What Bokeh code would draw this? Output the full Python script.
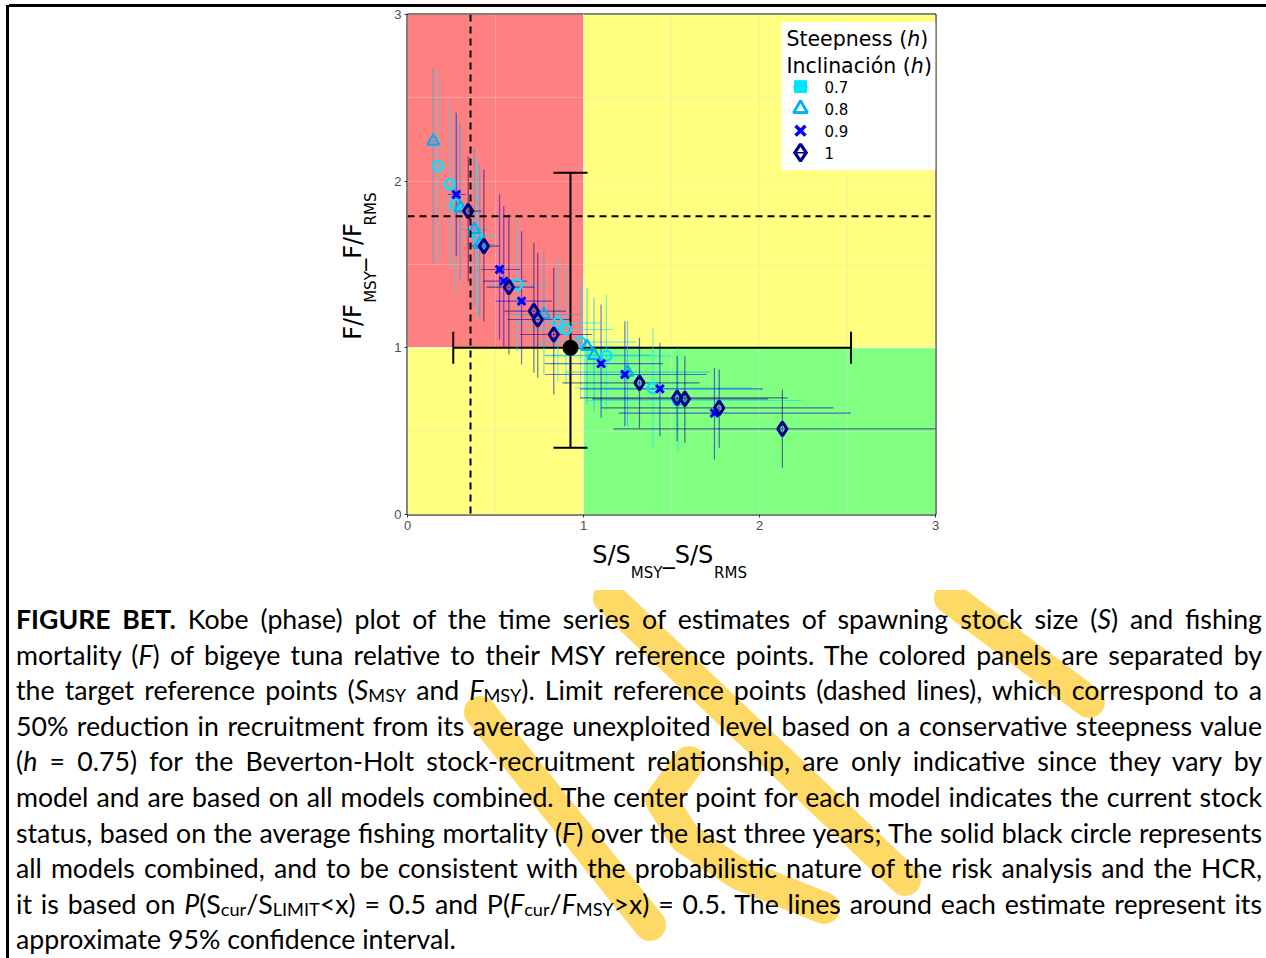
from math import pi
from bokeh.plotting import figure
from bokeh.models import (Range1d, Span, Label, Div, Whisker, TeeHead, ColumnDataSource,
                          LinearAxis, FixedTicker)
from bokeh.layouts import row, column
from bokeh.embed import file_html
from bokeh.resources import INLINE

# ---------------- data ----------------
# steepness h = 0.7 (open circles)
h07_x   = [0.174, 0.24, 0.273, 0.396, 0.623, 0.854, 0.90, 0.983, 1.13, 1.394, 1.536]
h07_y   = [2.09, 1.98, 1.86, 1.67, 1.38, 1.15, 1.11, 1.034, 0.952, 0.758, 0.684]
h07_xlo = [0.15, 0.20, 0.20, 0.30, 0.47, 0.62, 0.66, 0.70, 0.78, 0.95, 1.02]
h07_xhi = [0.20, 0.28, 0.36, 0.50, 0.80, 1.10, 1.17, 1.30, 1.50, 1.96, 2.24]
h07_ylo = [1.52, 1.48, 1.33, 1.18, 0.98, 0.80, 0.78, 0.70, 0.62, 0.40, 0.38]
h07_yhi = [2.66, 2.48, 2.40, 2.15, 1.80, 1.54, 1.50, 1.40, 1.32, 1.12, 1.00]

# steepness h = 0.8 (open triangles)
h08_x   = [0.146, 0.30, 0.38, 0.41, 0.775, 1.02, 1.06, 1.25]
h08_y   = [2.24, 1.84, 1.71, 1.62, 1.20, 1.008, 0.955, 0.854]
h08_xlo = [0.13, 0.24, 0.30, 0.33, 0.58, 0.75, 0.78, 0.90]
h08_xhi = [0.17, 0.36, 0.46, 0.50, 0.98, 1.32, 1.38, 1.72]
h08_ylo = [1.51, 1.40, 1.25, 1.18, 0.84, 0.66, 0.62, 0.53]
h08_yhi = [2.68, 2.35, 2.20, 2.10, 1.58, 1.36, 1.30, 1.16]

# steepness h = 0.9 (crosses)
h09_x   = [0.277, 0.523, 0.547, 0.648, 1.10, 1.235, 1.434, 1.744]
h09_y   = [1.92, 1.47, 1.40, 1.28, 0.905, 0.84, 0.754, 0.608]
h09_xlo = [0.23, 0.42, 0.43, 0.50, 0.78, 0.78, 0.98, 1.20]
h09_xhi = [0.33, 0.64, 0.68, 0.82, 1.45, 1.70, 2.02, 2.52]
h09_ylo = [1.55, 1.05, 1.00, 0.90, 0.58, 0.53, 0.47, 0.33]
h09_yhi = [2.41, 1.92, 1.85, 1.70, 1.26, 1.16, 1.03, 0.88]

# steepness h = 1 (open diamonds)
h10_x   = [0.345, 0.434, 0.576, 0.718, 0.74, 0.831, 1.318, 1.532, 1.576, 1.771, 2.13]
h10_y   = [1.82, 1.61, 1.364, 1.22, 1.17, 1.08, 0.79, 0.70, 0.694, 0.64, 0.514]
h10_xlo = [0.28, 0.35, 0.45, 0.55, 0.57, 0.64, 0.88, 0.98, 1.05, 1.10, 1.17]
h10_xhi = [0.42, 0.52, 0.72, 0.90, 0.93, 1.05, 1.66, 2.16, 2.05, 2.42, 3.10]
h10_ylo = [1.40, 1.16, 0.96, 0.85, 0.82, 0.72, 0.52, 0.44, 0.43, 0.40, 0.28]
h10_yhi = [2.15, 2.07, 1.80, 1.63, 1.57, 1.48, 1.06, 0.95, 0.95, 0.87, 0.75]

# all models combined
comb_x, comb_y = [0.926], [1.0]
comb_xlo, comb_xhi = [0.26], [2.52]
comb_ylo, comb_yhi = [0.40], [2.05]

# limit reference points (dashed)
limit_s = 0.358
limit_f = 1.79

# target reference points and axis ticks
target_s, target_f = 1.0, 1.0
axis_max = 3
ticks = [0, 1, 2, 3]
legend_labels = ["0.7", "0.8", "0.9", "1"]

# ---------------- figure ----------------
FONT = "DejaVu Sans"
p = figure(width=1257, height=583, x_range=Range1d(0, axis_max), y_range=Range1d(0, axis_max),
           output_backend="svg", toolbar_location=None,
           min_border_left=398, min_border_right=331, min_border_top=7, min_border_bottom=76,
           margin=0)
p.outline_line_color = "black"
p.outline_line_width = 2
p.background_fill_color = "white"
p.border_fill_color = "white"

# coloured Kobe panels
panels = ColumnDataSource(dict(
    left=[0, 0, target_s, target_s],
    right=[target_s, target_s, axis_max, axis_max],
    bottom=[target_f, 0, target_f, 0],
    top=[axis_max, target_f, axis_max, target_f],
    color=["#FF8080", "#FFFF80", "#FFFF80", "#80FF80"],
))
p.quad(left="left", right="right", bottom="bottom", top="top", fill_color="color",
       line_color="white", line_width=1, line_alpha=0.8, source=panels, level="image")

for ax in (p.xaxis[0], p.yaxis[0]):
    ax.ticker = ticks
    ax.axis_line_color = None
    ax.major_tick_in = 0
    ax.major_tick_out = 3
    ax.major_tick_line_color = "#333333"
    ax.minor_tick_line_color = None
    ax.major_label_text_font = "Liberation Sans"
    ax.major_label_text_font_size = "13px"
    ax.major_label_text_color = "#4D4D4D"
    ax.major_label_standoff = 3

p.xgrid.ticker = [0.5, 1, 1.5, 2, 2.5]
p.ygrid.ticker = [0.5, 1, 1.5, 2, 2.5]
p.grid.grid_line_color = "#E0E0E0"
p.grid.grid_line_alpha = 0.35

groups = [
    (h07_x, h07_y, h07_xlo, h07_xhi, h07_ylo, h07_yhi, "#00E5FF", "circle", 10, 2.5),
    (h08_x, h08_y, h08_xlo, h08_xhi, h08_ylo, h08_yhi, "#00B0F0", "triangle", 12, 2.2),
    (h09_x, h09_y, h09_xlo, h09_xhi, h09_ylo, h09_yhi, "#0000FF", "x", 11, 3.0),
    (h10_x, h10_y, h10_xlo, h10_xhi, h10_ylo, h10_yhi, "#00008B", "diamond", 14, 3.0),
]

for gx, gy, xlo, xhi, ylo, yhi, col, mk, sz, lw in groups:
    src = ColumnDataSource(dict(x=gx, y=gy, xlo=xlo, xhi=xhi, ylo=ylo, yhi=yhi))
    p.segment(x0="xlo", x1="xhi", y0="y", y1="y", source=src, line_color=col, line_alpha=0.55, line_width=1.2)
    p.segment(x0="x", x1="x", y0="ylo", y1="yhi", source=src, line_color=col, line_alpha=0.55, line_width=1.2)

for gx, gy, xlo, xhi, ylo, yhi, col, mk, sz, lw in groups:
    p.scatter(gx, gy, marker=mk, size=sz, fill_color=None, line_color=col, line_width=lw)

# limit reference points
p.add_layout(Span(location=limit_s, dimension="height", line_color="black", line_width=2, line_dash="7 5"))
p.add_layout(Span(location=limit_f, dimension="width", line_color="black", line_width=2, line_dash="7 5"))

# combined estimate
csrc = ColumnDataSource(dict(x=comb_x, y=comb_y, xlo=comb_xlo, xhi=comb_xhi, ylo=comb_ylo, yhi=comb_yhi))
p.add_layout(Whisker(base="x", lower="ylo", upper="yhi", dimension="height", source=csrc,
                     line_color="black", line_width=2,
                     lower_head=TeeHead(size=34, line_width=2, line_color="black"),
                     upper_head=TeeHead(size=34, line_width=2, line_color="black")))
p.add_layout(Whisker(base="y", lower="xlo", upper="xhi", dimension="width", source=csrc,
                     line_color="black", line_width=2,
                     lower_head=TeeHead(size=32, line_width=2, line_color="black"),
                     upper_head=TeeHead(size=32, line_width=2, line_color="black")))
p.scatter(comb_x, comb_y, marker="circle", size=15, color="black")

# legend (manual, ggplot style)
p.quad(left=[2.125], right=[3.0], bottom=[2.066], top=[2.955], fill_color="white", line_color=None)
leg_y = [2.567, 2.435, 2.303, 2.171]
leg_x = 2.233
p.segment(x0=[2.19], x1=[2.275], y0=[leg_y[0]], y1=[leg_y[0]], line_color="#00E5FF", line_width=1.5)
p.scatter([leg_x], [leg_y[0]], marker="square", size=12, color="#00E5FF")
p.scatter([leg_x], [leg_y[1]], marker="triangle", size=14, fill_color=None, line_color="#00B0F0", line_width=2.8)
p.segment(x0=[2.19], x1=[2.275], y0=[leg_y[1] - 0.02], y1=[leg_y[1] - 0.02], line_color="#00B0F0", line_width=1.5)
p.scatter([leg_x], [leg_y[2]], marker="x", size=14, line_color="#0000FF", line_width=3.5)
p.scatter([leg_x], [leg_y[3]], marker="diamond", size=17, fill_color=None, line_color="#00008B", line_width=3.2)
p.segment(x0=[2.19], x1=[2.275], y0=[leg_y[3]], y1=[leg_y[3]], line_color="#00008B", line_width=1.5)
for yy, lab_ in zip(leg_y, legend_labels):
    p.add_layout(Label(x=2.369, y=yy, text=lab_, text_font=FONT, text_font_size="15px",
                       text_baseline="middle", text_align="left", text_color="black"))

def lab(x, y, t, size, style="normal"):
    p.add_layout(Label(x=x, y=y, text=t, text_font=FONT, text_font_size=size, text_font_style=style,
                       text_align="left", text_baseline="middle", text_color="black"))

lab(2.153, 2.855, "Steepness (", "20.5px")
lab(2.840, 2.855, "h", "20.5px", style="italic")
lab(2.914, 2.855, ")", "20.5px")
lab(2.153, 2.694, "Inclinación (", "20.5px")
lab(2.860, 2.694, "h", "20.5px", style="italic")
lab(2.934, 2.694, ")", "20.5px")

# axis titles built from label-only axes (main text and subscripts)
def title_axis(side, tick_pos, texts, size, standoff, vertical=False):
    ax = LinearAxis(ticker=FixedTicker(ticks=tick_pos),
                    major_label_overrides={t: s for t, s in zip(tick_pos, texts)})
    ax.axis_line_color = None
    ax.major_tick_line_color = None
    ax.minor_tick_line_color = None
    ax.major_tick_in = 0
    ax.major_tick_out = 0
    ax.major_label_text_font = FONT
    ax.major_label_text_font_size = size
    ax.major_label_text_color = "black"
    ax.major_label_standoff = standoff
    if vertical:
        ax.major_label_orientation = "vertical"
    p.add_layout(ax, side)

title_axis("below", [1.159, 1.594], ["S/S", "_S/S"], "24px", 8)
title_axis("below", [1.358, 1.835], ["MSY", "RMS"], "15px", -8)
title_axis("left", [1.365, 1.833], ["MSY", "RMS"], "15px", 12, vertical=True)
title_axis("left", [1.155, 1.605], ["F/F", "_F/F"], "24px", -8, vertical=True)

# ---------------- page frame + caption ----------------
left_bar = Div(text="", width=3, height=953, margin=(5, 0, 0, 6), styles={"background-color": "black"})
top_bar = Div(text="", width=1257, height=3, margin=(4, 0, 0, 0), styles={"background-color": "black"})

# watermark strokes (page coordinates minus caption origin 9,590)
wm = ('<svg style="position:absolute;left:0;top:0;z-index:0" width="1257" height="368">'
      '<g stroke="#FFD966" stroke-width="32" stroke-linecap="round" stroke-linejoin="round" fill="none">'
      '<line x1="941" y1="8" x2="1080" y2="112"/>'
      '<line x1="600" y1="8" x2="896" y2="290"/>'
      '<line x1="471" y1="122" x2="641" y2="335"/>'
      '<polyline points="680,172 652,210 676,248 730,284 815,318"/>'
      '</g></svg>')

J = 'style="text-align:justify;text-align-last:justify;white-space:nowrap"'
SUB = '<span style="font-size:0.68em;vertical-align:-0.12em;line-height:0">'
lines = [
    '<b>FIGURE BET.</b> Kobe (phase) plot of the time series of estimates of spawning stock size (<i>S</i>) and fishing',
    'mortality (<i>F</i>) of bigeye tuna relative to their MSY reference points. The colored panels are separated by',
    f'the target reference points (<i>S</i>{SUB}MSY</span> and <i>F</i>{SUB}MSY</span>). Limit reference points (dashed lines), which correspond to a',
    '50% reduction in recruitment from its average unexploited level based on a conservative steepness value',
    '(<i>h</i> = 0.75) for the Beverton-Holt stock-recruitment relationship, are only indicative since they vary by',
    'model and are based on all models combined. The center point for each model indicates the current stock',
    'status, based on the average fishing mortality (<i>F</i>) over the last three years; The solid black circle represents',
    'all models combined, and to be consistent with the probabilistic nature of the risk analysis and the HCR,',
    f'it is based on <i>P</i>(S{SUB}cur</span>/S{SUB}LIMIT</span>&lt;x) = 0.5 and P(<i>F</i>{SUB}cur</span>/<i>F</i>{SUB}MSY</span>&gt;x) = 0.5. The lines around each estimate represent its',
]
html = ('<div style="position:relative;width:1257px;height:368px">' + wm +
        '<div style="position:relative;z-index:1;padding-top:12px;font-family:Lato;font-size:26.7px;'
        'line-height:35.6px;color:#000;width:1246px;margin-left:7px">')
for ln in lines:
    html += f'<div {J}>{ln}</div>'
html += '<div style="white-space:nowrap">approximate 95% confidence interval.</div></div></div>'
caption = Div(text=html, width=1257, height=368, margin=0)

layout = row(left_bar, column(top_bar, p, caption, margin=0, spacing=0), margin=0, spacing=0)

open("out.html", "w").write(file_html(layout, INLINE))
